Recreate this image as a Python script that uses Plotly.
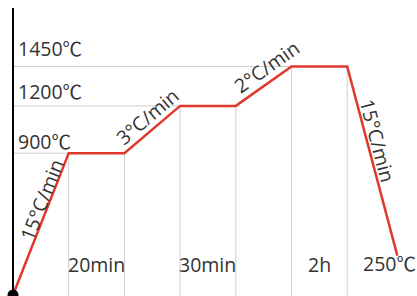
import math
import plotly.graph_objects as go

# ---- data (schematic firing profile) ----
stage_x = [0, 1, 2, 3, 4, 5, 6, 6.9]
temps = [0, 900, 900, 1200, 1200, 1450, 1450, 250]
level_temps = [1450, 1200, 900]
level_labels = ["1450℃", "1200℃", "900℃"]
rate_labels = ["15°C/min", "3°C/min", "2°C/min", "15°C/min"]
rate_segments = [0, 2, 4, 6]          # start index of each ramp segment
hold_labels = ["20min", "30min", "2h"]
hold_segments = [1, 3, 5]             # start index of each hold segment
end_label = "250℃"

W, H = 417, 296
X0_PX, KX = 13, 55.7                  # px of x=0, px per stage
Y0_PX, KY = 295, 0.1576               # px of T=0, px per degree
x_range = [-X0_PX / KX, (W - X0_PX) / KX]
y_min = -(H - Y0_PX) / KY
y_range = [y_min, y_min + H / KY]

RED = "#e0392c"
GRID = "#cfcfcf"
TXT = "#333333"
FONT = "Open Sans, Noto Sans CJK SC, sans-serif"
FS = 19.5

fig = go.Figure()

# guide lines: horizontal from axis to plateau end, vertical drops to baseline
gx, gy = [], []
for i in range(1, 7):
    gx += [stage_x[i], stage_x[i], None]
    gy += [temps[i], y_min, None]
for i in hold_segments:
    gx += [0, stage_x[i + 1], None]
    gy += [temps[i], temps[i], None]
fig.add_trace(go.Scatter(x=gx, y=gy, mode="lines",
                         line=dict(color=GRID, width=1), hoverinfo="skip"))

fig.add_trace(go.Scatter(x=stage_x, y=temps, mode="lines",
                         line=dict(color=RED, width=2.5)))
fig.add_trace(go.Scatter(x=[stage_x[0]], y=[temps[0]], mode="markers",
                         marker=dict(color="black", size=11), cliponaxis=False))

fig.add_shape(type="line", xref="x", yref="paper", x0=0, x1=0,
              y0=0, y1=1 - 8 / H, line=dict(color="black", width=2))

def paper(px, py):
    return px / W, 1 - py / H

ann = []
# temperature levels
level_pos = [48, 91, 141]
for lab, py in zip(level_labels, level_pos):
    x, y = paper(16, py)
    ann.append(dict(x=x, y=y, xref="paper", yref="paper", text=lab,
                    xanchor="left", yanchor="middle", showarrow=False))

# ramp rate labels
rate_pos = [(41, 200), (147, 116), (267, 67), (378, 140)]
for lab, seg, (px, py) in zip(rate_labels, rate_segments, rate_pos):
    dx = (stage_x[seg + 1] - stage_x[seg]) * KX
    dy = (temps[seg + 1] - temps[seg]) * KY
    ang = -math.degrees(math.atan2(dy, dx))
    x, y = paper(px, py)
    ann.append(dict(x=x, y=y, xref="paper", yref="paper", text=lab,
                    textangle=ang, xanchor="center", yanchor="middle",
                    showarrow=False))

# hold durations
for lab, seg in zip(hold_labels, hold_segments):
    xm = (stage_x[seg] + stage_x[seg + 1]) / 2
    ann.append(dict(x=xm, y=0, xref="x", yref="y", yshift=31, text=lab,
                    xanchor="center", yanchor="middle", showarrow=False))
x, y = paper(361, 263)
ann.append(dict(x=x, y=y, xref="paper", yref="paper", text=end_label,
                xanchor="left", yanchor="middle", showarrow=False))

fig.update_layout(
    width=W, height=H, margin=dict(l=0, r=0, t=0, b=0),
    paper_bgcolor="white", plot_bgcolor="white", showlegend=False,
    font=dict(family=FONT, size=FS, color=TXT),
    annotations=ann,
    xaxis=dict(range=x_range, visible=False, fixedrange=True),
    yaxis=dict(range=y_range, visible=False, fixedrange=True),
)

fig.write_html(
    "out.html",
    config={"displayModeBar": False, "staticPlot": True},
    post_script="document.body.style.margin='0';"
                "document.body.style.overflow='hidden';",
)
